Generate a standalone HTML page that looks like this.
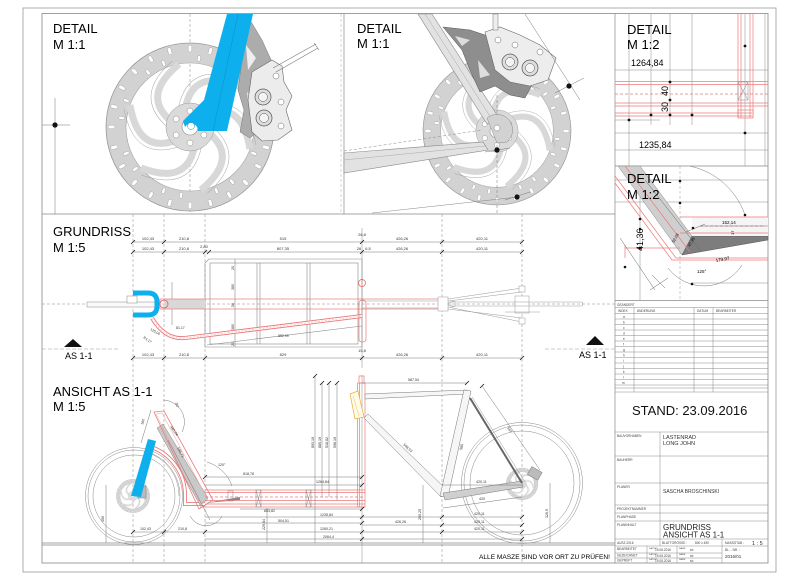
<!DOCTYPE html>
<html><head><meta charset="utf-8"><style>
html,body{margin:0;padding:0;background:#fff;}
svg{display:block;}
text{font-family:"Liberation Sans",Arial,sans-serif;}
</style></head><body>
<svg width="800" height="583" viewBox="0 0 800 583" xmlns="http://www.w3.org/2000/svg">
<defs>
 <rect id="so" x="-1.8" y="-82" width="3.6" height="7" rx="1.8" fill="#fff" stroke="#9a9a9a" stroke-width="0.4"/>
 <rect id="si" x="-1.5" y="-72" width="3" height="6" rx="1.5" fill="#fff" stroke="#9a9a9a" stroke-width="0.4"/>
 <path id="arm" d="M16,-14 Q52,-26 60,22" fill="none" stroke="#d8d8d8" stroke-width="7"/>
 <path id="armo" d="M12,-20 Q56,-34 66,18" fill="none" stroke="#a5a5a5" stroke-width="0.5"/>
 <g id="disc">
  <circle r="74" fill="none" stroke="#d2d2d2" stroke-width="20"/>
  <circle r="84" fill="none" stroke="#999" stroke-width="0.8"/>
  <circle r="64" fill="none" stroke="#a5a5a5" stroke-width="0.6"/>
  <use href="#so"/><use href="#so" transform="rotate(15)"/><use href="#so" transform="rotate(30)"/><use href="#so" transform="rotate(45)"/><use href="#so" transform="rotate(60)"/><use href="#so" transform="rotate(75)"/><use href="#so" transform="rotate(90)"/><use href="#so" transform="rotate(105)"/><use href="#so" transform="rotate(120)"/><use href="#so" transform="rotate(135)"/><use href="#so" transform="rotate(150)"/><use href="#so" transform="rotate(165)"/><use href="#so" transform="rotate(180)"/><use href="#so" transform="rotate(195)"/><use href="#so" transform="rotate(210)"/><use href="#so" transform="rotate(225)"/><use href="#so" transform="rotate(240)"/><use href="#so" transform="rotate(255)"/><use href="#so" transform="rotate(270)"/><use href="#so" transform="rotate(285)"/><use href="#so" transform="rotate(300)"/><use href="#so" transform="rotate(315)"/><use href="#so" transform="rotate(330)"/><use href="#so" transform="rotate(345)"/>
  <use href="#si" transform="rotate(7.5)"/><use href="#si" transform="rotate(22.5)"/><use href="#si" transform="rotate(52.5)"/><use href="#si" transform="rotate(67.5)"/><use href="#si" transform="rotate(97.5)"/><use href="#si" transform="rotate(112.5)"/><use href="#si" transform="rotate(142.5)"/><use href="#si" transform="rotate(157.5)"/><use href="#si" transform="rotate(187.5)"/><use href="#si" transform="rotate(202.5)"/><use href="#si" transform="rotate(232.5)"/><use href="#si" transform="rotate(247.5)"/><use href="#si" transform="rotate(277.5)"/><use href="#si" transform="rotate(292.5)"/><use href="#si" transform="rotate(322.5)"/><use href="#si" transform="rotate(337.5)"/>
  <use href="#arm"/><use href="#arm" transform="rotate(60)"/><use href="#arm" transform="rotate(120)"/><use href="#arm" transform="rotate(180)"/><use href="#arm" transform="rotate(240)"/><use href="#arm" transform="rotate(300)"/>
  <use href="#armo"/><use href="#armo" transform="rotate(60)"/><use href="#armo" transform="rotate(120)"/><use href="#armo" transform="rotate(180)"/><use href="#armo" transform="rotate(240)"/><use href="#armo" transform="rotate(300)"/>
  <circle r="24" fill="#dadada" stroke="#999" stroke-width="0.5"/>
  <circle r="8" fill="#fff" stroke="#888" stroke-width="0.6"/>
  <circle cx="0" cy="-16" r="3" fill="#fff" stroke="#888" stroke-width="0.5"/>
  <circle cx="13.9" cy="-8" r="3" fill="#fff" stroke="#888" stroke-width="0.5"/>
  <circle cx="13.9" cy="8" r="3" fill="#fff" stroke="#888" stroke-width="0.5"/>
  <circle cx="0" cy="16" r="3" fill="#fff" stroke="#888" stroke-width="0.5"/>
  <circle cx="-13.9" cy="8" r="3" fill="#fff" stroke="#888" stroke-width="0.5"/>
  <circle cx="-13.9" cy="-8" r="3" fill="#fff" stroke="#888" stroke-width="0.5"/>
 </g>
</defs>

<!-- frames -->
<rect x="23" y="8" width="753" height="564" fill="none" stroke="#999" stroke-width="0.8"/>
<rect x="42" y="13.5" width="726" height="549.5" fill="none" stroke="#888" stroke-width="0.8"/>
<g stroke="#888" stroke-width="0.7">
 <line x1="344" y1="13.5" x2="344" y2="214"/>
 <line x1="42" y1="214" x2="615" y2="214"/>
 <line x1="615" y1="13.5" x2="615" y2="563"/>
 <line x1="615" y1="166" x2="768" y2="166"/>
 <line x1="615" y1="300.5" x2="768" y2="300.5"/>
 <line x1="42" y1="543" x2="615" y2="543"/>
 <line x1="42" y1="545" x2="615" y2="545"/>
</g>

<!-- ================= DETAIL 1 ================= -->
<line x1="190" y1="14" x2="190" y2="214" stroke="#888" stroke-width="0.5" stroke-dasharray="3,2"/>
<line x1="341" y1="14" x2="341" y2="214" stroke="#aaa" stroke-width="0.5" stroke-dasharray="3,2"/>
<use href="#disc" transform="translate(190,127)"/>
<path d="M236,22 L250,20 L262,40 L272,62 L262,80 L268,100 L262,128 L250,138 L240,132 L244,110 L238,90 L242,60 Z" fill="#acacac" stroke="#777" stroke-width="0.5"/>
<path d="M246,45 L256,58 L248,70 Z M247,92 L256,100 L250,118 Z" fill="#eee"/>
<path d="M252,72 L272,60 L282,66 L284,82 L292,96 L286,110 L292,130 L278,140 L262,141 L252,132 L248,100 Z" fill="#ececec" stroke="#666" stroke-width="0.6"/>
<circle cx="263" cy="97" r="8" fill="#ddd" stroke="#555" stroke-width="0.7"/>
<circle cx="263" cy="97" r="4.5" fill="#f4f4f4" stroke="#555" stroke-width="0.5"/>
<circle cx="264" cy="118" r="8" fill="#ddd" stroke="#555" stroke-width="0.7"/>
<circle cx="264" cy="118" r="4.5" fill="#f4f4f4" stroke="#555" stroke-width="0.5"/>
<circle cx="276" cy="76" r="3" fill="#fff" stroke="#666" stroke-width="0.5"/>
<circle cx="281" cy="102" r="3" fill="#fff" stroke="#666" stroke-width="0.5"/>
<circle cx="281" cy="126" r="3" fill="#fff" stroke="#666" stroke-width="0.5"/>
<path d="M273,68 L316,44 M276,72 L318,48 M314,43 L319,50" stroke="#777" stroke-width="0.6" fill="none"/>
<path d="M227,14 L253,14 L227,131 L198,131 A7,7 0 0 0 185,127 L183,121 L204,100 Z" fill="#0db0ec"/>
<line x1="238" y1="14" x2="213" y2="131" stroke="#0a90c4" stroke-width="0.5"/>
<circle cx="191" cy="126" r="3.5" fill="#fff" stroke="#0a90c4" stroke-width="0.5"/>
<line x1="55" y1="98" x2="55" y2="214" stroke="#777" stroke-width="0.5"/>
<line x1="42" y1="125" x2="70" y2="125" stroke="#777" stroke-width="0.5"/>
<circle cx="55" cy="125" r="2.6" fill="#111"/>
<text x="53" y="33" font-size="13">DETAIL</text>
<text x="53" y="49" font-size="13">M 1:1</text>

<!-- ================= DETAIL 2 ================= -->
<use href="#disc" transform="translate(497,131) scale(0.88)"/>
<line x1="497" y1="95" x2="497" y2="214" stroke="#777" stroke-width="0.5" stroke-dasharray="3,2"/>
<polygon points="344,153 483,142 488,150 344,173" fill="#e2e2e2" stroke="#888" stroke-width="0.6"/>
<line x1="344" y1="160" x2="485" y2="146" stroke="#999" stroke-width="0.4"/>
<line x1="344" y1="151" x2="482" y2="130" stroke="#888" stroke-width="0.5" stroke-dasharray="3,2"/>
<line x1="372" y1="213" x2="518" y2="197" stroke="#888" stroke-width="0.5"/>
<polygon points="418,14 432,14 499,118 487,124" fill="#e2e2e2" stroke="#888" stroke-width="0.6"/>
<line x1="425" y1="14" x2="493" y2="121" stroke="#999" stroke-width="0.4"/>
<path d="M487,118 A15,15 0 1 1 507,142 L497,143 Z" fill="#d2d2d2" stroke="#888" stroke-width="0.5"/>
<circle cx="497" cy="128" r="3" fill="#fff" stroke="#777" stroke-width="0.5"/>
<path d="M443,27 L470,30 L500,40 L520,55 L532,85 L525,98 L510,95 L495,86 L480,92 L470,70 L462,50 Z" fill="#8e8e8e" stroke="#555" stroke-width="0.5"/>
<path d="M455,36 L470,40 L462,46 Z M478,60 L490,75 L480,78 Z M500,58 L512,70 L502,72 Z" fill="#ddd"/>
<path d="M485,32 L500,27 L520,35 L540,45 L556,58 L548,80 L530,86 L510,82 L495,70 Z" fill="#ededed" stroke="#666" stroke-width="0.6"/>
<circle cx="510" cy="62" r="8" fill="#ddd" stroke="#555" stroke-width="0.7"/>
<circle cx="510" cy="62" r="4.5" fill="#f4f4f4" stroke="#555" stroke-width="0.5"/>
<circle cx="530" cy="68" r="8" fill="#ddd" stroke="#555" stroke-width="0.7"/>
<circle cx="530" cy="68" r="4.5" fill="#f4f4f4" stroke="#555" stroke-width="0.5"/>
<circle cx="498" cy="40" r="3" fill="#fff" stroke="#666" stroke-width="0.5"/>
<circle cx="515" cy="45" r="3" fill="#fff" stroke="#666" stroke-width="0.5"/>
<circle cx="540" cy="52" r="3" fill="#fff" stroke="#666" stroke-width="0.5"/>
<rect x="493" y="14" width="5" height="16" fill="#eee" stroke="#777" stroke-width="0.5"/>
<line x1="525" y1="14" x2="580" y2="100" stroke="#777" stroke-width="0.5"/>
<line x1="555" y1="93" x2="584" y2="78" stroke="#777" stroke-width="0.5"/>
<line x1="485" y1="152" x2="510" y2="148" stroke="#777" stroke-width="0.5"/>
<line x1="505" y1="200" x2="530" y2="192" stroke="#777" stroke-width="0.5"/>
<circle cx="569" cy="86" r="2.6" fill="#111"/>
<circle cx="497" cy="150" r="2.6" fill="#111"/>
<circle cx="517" cy="197" r="2.6" fill="#111"/>
<text x="357" y="33" font-size="13">DETAIL</text>
<text x="357" y="48" font-size="13">M 1:1</text>

<!-- ================= DETAIL 3 ================= -->
<g stroke="#888" stroke-width="0.5">
 <line x1="615" y1="70" x2="768" y2="70"/>
 <line x1="615" y1="133" x2="768" y2="133"/>
 <line x1="615" y1="150" x2="768" y2="150"/>
 <line x1="629" y1="14" x2="629" y2="166"/>
 <line x1="651" y1="14" x2="651" y2="125"/>
 <line x1="670" y1="14" x2="670" y2="125"/>
 <line x1="692" y1="14" x2="692" y2="125"/>
 <line x1="745" y1="14" x2="745" y2="166"/>
 <line x1="765" y1="14" x2="765" y2="166"/>
 <line x1="615" y1="120" x2="660" y2="120"/>
</g>
<g stroke="#ec7a7a" stroke-width="0.7" fill="none">
 <line x1="615" y1="81.5" x2="768" y2="81.5"/>
 <line x1="615" y1="84.5" x2="768" y2="84.5"/>
 <line x1="615" y1="94" x2="768" y2="94" stroke-dasharray="3,2"/>
 <line x1="615" y1="103" x2="768" y2="103"/>
 <line x1="615" y1="106" x2="768" y2="106"/>
 <line x1="615" y1="113" x2="752" y2="113"/>
 <line x1="615" y1="116" x2="752" y2="116"/>
 <line x1="738" y1="14" x2="738" y2="118"/>
 <line x1="741" y1="14" x2="741" y2="118"/>
 <line x1="750" y1="14" x2="750" y2="118"/>
 <line x1="753" y1="14" x2="753" y2="118"/>
 <rect x="738" y="110" width="15" height="8"/>
</g>
<g stroke="#888" stroke-width="0.5" fill="none">
 <rect x="738" y="82" width="10" height="18"/>
 <line x1="738" y1="82" x2="748" y2="100"/><line x1="748" y1="82" x2="738" y2="100"/>
</g>
<g fill="#111">
 <circle cx="745" cy="46" r="1.4"/><circle cx="670" cy="82" r="1.4"/><circle cx="670" cy="100" r="1.4"/>
 <circle cx="670" cy="115" r="1.4"/><circle cx="651" cy="115" r="1.4"/><circle cx="692" cy="115" r="1.4"/>
 <circle cx="629" cy="120" r="1.4"/><circle cx="745" cy="133" r="1.4"/>
</g>
<text x="627" y="34" font-size="13">DETAIL</text>
<text x="627" y="49" font-size="13">M 1:2</text>
<text x="631" y="66" font-size="9">1264,84</text>
<text x="639" y="148" font-size="9">1235,84</text>
<text x="0" y="0" font-size="9" transform="translate(668,96) rotate(-90)">40</text>
<text x="0" y="0" font-size="9" transform="translate(668,112) rotate(-90)">30</text>

<!-- ================= DETAIL 4 ================= -->
<line x1="680" y1="166" x2="680" y2="300" stroke="#999" stroke-width="0.5" stroke-dasharray="3,2"/>
<g stroke="#888" stroke-width="0.5">
 <line x1="615" y1="180" x2="768" y2="180"/>
 <line x1="615" y1="202" x2="768" y2="202"/>
 <line x1="692" y1="283" x2="768" y2="283"/>
 <line x1="640" y1="166" x2="640" y2="300"/>
</g>
<polygon points="618,166 640,166 692,236 682,255" fill="#cfcfcf" stroke="#888" stroke-width="0.5"/>
<polygon points="692,236 768,236 768,240 682,255" fill="#7d7d7d" stroke="#555" stroke-width="0.5"/>
<rect x="692" y="217" width="76" height="19" fill="#f5f5f5" stroke="none"/>
<g stroke="#ec7a7a" stroke-width="0.7" fill="none">
 <line x1="615" y1="176" x2="676" y2="258"/>
 <line x1="615" y1="183" x2="672" y2="260"/>
 <line x1="625" y1="166" x2="690" y2="252"/>
 <line x1="676" y1="258" x2="768" y2="258"/>
 <line x1="672" y1="260" x2="768" y2="260"/>
 <line x1="680" y1="217" x2="768" y2="217"/>
 <line x1="680" y1="233" x2="768" y2="233"/>
 <line x1="700" y1="226" x2="768" y2="226" stroke-dasharray="3,2"/>
 <line x1="625" y1="245" x2="625" y2="258"/>
 <line x1="625" y1="248" x2="680" y2="248"/>
</g>
<path d="M690,166 A75,75 0 0 1 745,215" fill="none" stroke="#777" stroke-width="0.5"/>
<path d="M668,268 A45,45 0 0 0 742,265" fill="none" stroke="#777" stroke-width="0.5"/>
<g stroke="#666" stroke-width="0.5">
 <line x1="645" y1="180" x2="700" y2="250"/>
 <line x1="620" y1="238" x2="655" y2="290"/>
 <line x1="652" y1="275" x2="665" y2="288"/>
 <line x1="650" y1="290" x2="668" y2="278"/>
 <line x1="700" y1="226" x2="765" y2="226"/>
 <line x1="686" y1="232" x2="705" y2="224"/>
</g>
<g fill="#111">
 <circle cx="680" cy="181" r="1.3"/><circle cx="680" cy="203" r="1.3"/><circle cx="640" cy="219" r="1.3"/>
 <circle cx="640" cy="229" r="1.3"/><circle cx="640" cy="248" r="1.3"/><circle cx="625" cy="267" r="1.3"/>
 <circle cx="693" cy="228" r="1.3"/><circle cx="745" cy="215" r="1.3"/><circle cx="692" cy="284" r="1.3"/>
</g>
<text x="627" y="183" font-size="13">DETAIL</text>
<text x="627" y="199" font-size="13">M 1:2</text>
<text x="722" y="224" font-size="4.5">152,14</text>
<text x="0" y="0" font-size="4.5" transform="translate(716,262) rotate(-10)">179,97</text>
<text x="697" y="273" font-size="4.5">125°</text>
<text x="0" y="0" font-size="9" transform="translate(643,251) rotate(-90)">41,36</text>
<text x="0" y="0" font-size="4" transform="translate(674,243) rotate(-60)">52,03</text>
<text x="0" y="0" font-size="4" transform="translate(690,247) rotate(-60)">47,95</text>
<text x="0" y="0" font-size="4" transform="translate(734,235) rotate(-90)">17</text>

<!-- ================= GRUNDRISS ================= -->
<g stroke="#888" stroke-width="0.5" stroke-dasharray="3,2">
 <line x1="133" y1="214" x2="133" y2="563"/>
 <line x1="164" y1="214" x2="164" y2="563"/>
 <line x1="205" y1="214" x2="205" y2="563"/>
 <line x1="442" y1="214" x2="442" y2="563"/>
 <line x1="522" y1="214" x2="522" y2="563"/>
 <line x1="42" y1="304" x2="615" y2="304"/>
</g>
<line x1="362" y1="228" x2="362" y2="368" stroke="#888" stroke-width="0.5"/>
<line x1="362" y1="375" x2="362" y2="563" stroke="#888" stroke-width="0.5"/>
<g stroke="#777" stroke-width="0.5">
 <line x1="133" y1="242" x2="522" y2="242"/>
 <line x1="133" y1="252" x2="522" y2="252"/>
 <line x1="133" y1="358" x2="522" y2="358"/>
</g>
<g stroke="#111" stroke-width="0.8">
 <path d="M131,244 l4,-4 M162,244 l4,-4 M360,244 l4,-4 M440,244 l4,-4 M520,244 l4,-4"/>
 <path d="M131,254 l4,-4 M162,254 l4,-4 M203,254 l4,-4 M207,254 l4,-4 M360,254 l4,-4 M440,254 l4,-4 M520,254 l4,-4"/>
 <path d="M131,360 l4,-4 M162,360 l4,-4 M203,360 l4,-4 M360,360 l4,-4 M440,360 l4,-4 M520,360 l4,-4"/>
</g>
<g font-size="4" fill="#333" text-anchor="middle">
 <text x="148" y="240">102,43</text><text x="184" y="240">210,8</text><text x="283" y="240">515</text><text x="362" y="236">26,8</text><text x="402" y="240">426,26</text><text x="482" y="240">420,11</text>
 <text x="148" y="250">102,43</text><text x="184" y="250">210,8</text><text x="204" y="248">2,80</text><text x="283" y="250">807,35</text><text x="359" y="250">26</text><text x="368" y="250">6,5</text><text x="402" y="250">426,26</text><text x="482" y="250">420,11</text>
 <text x="148" y="356">102,43</text><text x="184" y="356">210,8</text><text x="283" y="356">829</text><text x="362" y="352">15,8</text><text x="402" y="356">426,26</text><text x="482" y="356">420,11</text>
</g>
<g stroke="#888" stroke-width="0.6" fill="none">
 <path d="M209,259 L362,259 L362,347 L205,347 L205,263 Z"/>
 <rect x="210" y="263" width="148" height="81"/>
 <line x1="257" y1="263" x2="257" y2="344"/><line x1="260" y1="263" x2="260" y2="344"/>
 <line x1="307" y1="263" x2="307" y2="344"/><line x1="310" y1="263" x2="310" y2="344"/>
 <line x1="207" y1="345" x2="362" y2="326"/>
 <line x1="235" y1="259" x2="235" y2="347"/>
 <line x1="172" y1="282" x2="172" y2="325"/>
</g>
<g font-size="3.5" fill="#333">
 <text transform="translate(234,270) rotate(-90)">20</text>
 <text transform="translate(234,290) rotate(-90)">380</text>
 <text transform="translate(234,307) rotate(-90)">50</text>
 <text transform="translate(234,330) rotate(-90)">380</text>
 <text transform="translate(234,346) rotate(-90)">20</text>
 <text transform="translate(171,308) rotate(-90)">475</text>
 <text x="278" y="337">852,99</text>
 <text x="176" y="329">81,17</text>
 <text transform="translate(150,330) rotate(30)">125,00</text>
 <text transform="translate(143,338) rotate(35)">R1,17</text>
</g>
<rect x="87" y="302" width="70" height="5" fill="#fafafa" stroke="#888" stroke-width="0.5"/>
<rect x="127" y="296" width="10" height="7" fill="#fff" stroke="#888" stroke-width="0.5"/>
<path d="M133,293 L148,293 Q157,293 157,302 L157,306 Q157,315 148,315 L133,315" fill="none" stroke="#0db0ec" stroke-width="5"/>
<rect x="164" y="299" width="41" height="10" fill="#d8d8d8" stroke="none"/>
<rect x="160" y="299" width="280" height="10" fill="none" stroke="#ec7a7a" stroke-width="0.7"/>
<circle cx="164" cy="304" r="4" fill="none" stroke="#e55" stroke-width="0.8"/>
<path d="M152,318 Q165,340 185,338 L362,316" fill="none" stroke="#ec7a7a" stroke-width="4"/>
<path d="M152,318 Q165,340 185,338 L362,316" fill="none" stroke="#fff" stroke-width="2.2"/>
<path d="M152,318 Q165,340 185,338 L362,316" fill="none" stroke="#f4b0b0" stroke-width="0.6" stroke-dasharray="2,1.5"/>
<rect x="359" y="300" width="7" height="42" rx="3" fill="none" stroke="#ec7a7a" stroke-width="0.7"/>
<circle cx="362" cy="283" r="3.5" fill="none" stroke="#e55" stroke-width="0.7"/>
<g stroke="#999" stroke-width="0.5" fill="#fff">
 <rect x="362" y="301" width="78" height="7" fill="none"/>
 <rect x="438" y="297" width="10" height="14"/>
 <rect x="515" y="296" width="14" height="17"/>
 <rect x="448" y="302" width="135" height="4" rx="2" fill="none"/>
 <line x1="448" y1="299" x2="522" y2="288"/><line x1="448" y1="301" x2="522" y2="292"/>
 <line x1="448" y1="309" x2="522" y2="318"/><line x1="448" y1="307" x2="522" y2="322"/>
 <rect x="519" y="286" width="6" height="6"/><rect x="519" y="318" width="6" height="6"/>
 <line x1="505" y1="312" x2="540" y2="312"/>
 <circle cx="453" cy="304" r="3" fill="none"/>
</g>
<line x1="42" y1="349" x2="120" y2="349" stroke="#999" stroke-width="0.5" stroke-dasharray="4,2"/>
<line x1="545" y1="349" x2="615" y2="349" stroke="#999" stroke-width="0.5" stroke-dasharray="4,2"/>
<polygon points="64,347 82,347 73,339" fill="#111"/>
<polygon points="586,345 604,345 595,336" fill="#111"/>
<text x="65" y="359" font-size="9">AS 1-1</text>
<text x="579" y="358" font-size="9">AS 1-1</text>
<text x="53" y="236" font-size="13">GRUNDRISS</text>
<text x="53" y="252" font-size="13">M 1:5</text>

<!-- ================= ANSICHT ================= -->
<text x="53" y="396" font-size="13">ANSICHT AS 1-1</text>
<text x="53" y="411" font-size="13">M 1:5</text>
<g fill="none" stroke="#888" stroke-width="0.5">
 <circle cx="134" cy="496" r="48.5"/><circle cx="134" cy="496" r="46"/><circle cx="134" cy="496" r="41"/>
 <circle cx="522" cy="483" r="60.5"/><circle cx="522" cy="483" r="58"/><circle cx="522" cy="483" r="52"/>
</g>
<use href="#disc" transform="translate(133,496) scale(0.2)"/>
<use href="#disc" transform="translate(522,484) scale(0.19)"/>
<rect x="138" y="486" width="8" height="12" fill="#bbb" stroke="#666" stroke-width="0.4"/>
<rect x="529" y="469" width="12" height="9" fill="#bbb" stroke="#666" stroke-width="0.4" transform="rotate(30 535 473)"/>
<path d="M148,446 A51,51 0 0 1 185,496 L185,504 L205,504" fill="none" stroke="#ec7a7a" stroke-width="4"/>
<path d="M148,446 A51,51 0 0 1 185,496 L185,504 L205,504" fill="none" stroke="#fff" stroke-width="2.2"/>
<path d="M145,452 A45,45 0 0 1 179,496" fill="none" stroke="#999" stroke-width="0.5"/>
<polygon points="157,428 163,424 208,498 200,505" fill="#c9c9c9" stroke="#888" stroke-width="0.5"/>
<polygon points="154,412 164,411 213,500 199,509" fill="none" stroke="#ec7a7a" stroke-width="0.8"/>
<polygon points="156,414 162,413 208,500 201,505" fill="none" stroke="#f0a0a0" stroke-width="0.5"/>
<path d="M205,503 L240,497 L240,500 Z" fill="#888"/>
<polygon points="148,439 156,441 141,497 131,496" fill="#0db0ec"/>
<g stroke="#ec7a7a" stroke-width="0.7" fill="none">
 <line x1="205" y1="490" x2="365" y2="490"/>
 <line x1="205" y1="492.5" x2="365" y2="492.5"/>
 <line x1="205" y1="497" x2="365" y2="497" stroke-dasharray="3,2"/>
 <line x1="205" y1="500.5" x2="365" y2="500.5"/>
 <line x1="205" y1="504" x2="365" y2="504"/>
 <line x1="200" y1="507" x2="365" y2="507"/>
 <rect x="357.5" y="383" width="7.5" height="124"/>
 <line x1="359.5" y1="383" x2="359.5" y2="507"/>
 <rect x="359" y="376" width="5" height="7"/>
</g>
<g stroke="#888" stroke-width="0.5" fill="none">
 <rect x="256" y="490" width="5" height="17"/><line x1="256" y1="490" x2="261" y2="507"/><line x1="261" y1="490" x2="256" y2="507"/>
 <rect x="306" y="490" width="5" height="17"/><line x1="306" y1="490" x2="311" y2="507"/><line x1="311" y1="490" x2="306" y2="507"/>
 <rect x="228" y="491" width="5" height="10"/>
</g>
<polygon points="350,394 358,391 364,417 355,419" fill="#fffbea" stroke="#e8b030" stroke-width="0.7"/>
<line x1="353" y1="396" x2="359" y2="416" stroke="#e8b030" stroke-width="0.4"/>
<polygon points="365,394 467,390 467,394 365,399" fill="#f6f6f6" stroke="#777" stroke-width="0.5"/>
<polygon points="364,418 368,414 447,490 441,497" fill="#f6f6f6" stroke="#777" stroke-width="0.5"/>
<polygon points="464,390 471,391 448,497 440,496" fill="#f6f6f6" stroke="#777" stroke-width="0.5"/>
<polygon points="443,493 522,481 523,487 445,500" fill="#cfcfcf" stroke="#777" stroke-width="0.5"/>
<line x1="470" y1="398" x2="522" y2="483" stroke="#666" stroke-width="2"/>
<line x1="472" y1="397" x2="525" y2="482" stroke="#999" stroke-width="0.5"/>
<g stroke="#777" stroke-width="0.5">
 <line x1="315" y1="376" x2="315" y2="543"/>
 <line x1="322" y1="383" x2="322" y2="497"/>
 <line x1="329" y1="383" x2="329" y2="497"/>
 <line x1="337" y1="383" x2="337" y2="500"/>
 <line x1="267" y1="508" x2="267" y2="543"/>
 <line x1="423" y1="485" x2="423" y2="543"/>
 <line x1="550" y1="483" x2="550" y2="543"/>
 <line x1="106" y1="485" x2="106" y2="543"/>
 <line x1="362" y1="383" x2="467" y2="383"/>
 <line x1="482" y1="386" x2="540" y2="470"/>
 <line x1="443" y1="508" x2="522" y2="497"/>
</g>
<g stroke="#777" stroke-width="0.5">
 <line x1="205" y1="477" x2="362" y2="477"/>
 <line x1="205" y1="485" x2="362" y2="485"/>
 <line x1="240" y1="509" x2="362" y2="509"/>
 <line x1="205" y1="517" x2="442" y2="517"/>
 <line x1="205" y1="523" x2="362" y2="523"/>
 <line x1="133" y1="532" x2="522" y2="532"/>
 <line x1="362" y1="525" x2="522" y2="525"/>
 <line x1="442" y1="517" x2="522" y2="517"/>
 <line x1="205" y1="539" x2="522" y2="539"/>
 <line x1="442" y1="485" x2="522" y2="485"/>
</g>
<g stroke="#111" stroke-width="0.8">
 <path d="M131,534 l4,-4 M162,534 l4,-4 M203,534 l4,-4 M360,534 l4,-4 M440,534 l4,-4 M520,534 l4,-4"/>
 <path d="M360,525 l4,-4 M440,527 l4,-4 M520,527 l4,-4 M440,519 l4,-4 M520,519 l4,-4 M203,479 l4,-4 M360,479 l4,-4 M360,487 l4,-4 M360,511 l4,-4 M360,519 l4,-4 M360,541 l4,-4 M520,541 l4,-4"/>
 <path d="M313,378 l4,-4 M320,385 l4,-4 M327,385 l4,-4 M335,385 l4,-4 M465,385 l4,-4 M480,388 l4,-4"/>
</g>
<g fill="none" stroke="#777" stroke-width="0.5">
 <path d="M163,400 A22,22 0 0 1 182,432"/>
 <path d="M207,462 A38,38 0 0 1 232,486"/>
 <path d="M190,516 A18,18 0 0 0 222,516"/>
 <line x1="141" y1="443" x2="151" y2="410"/>
 <line x1="168" y1="440" x2="210" y2="520"/>
</g>
<g font-size="3.6" fill="#333">
 <text x="243" y="475">818,78</text>
 <text x="316" y="483">1264,84</text>
 <text x="264" y="512">853,82</text>
 <text x="320" y="516">1235,84</text>
 <text x="278" y="522">504,51</text>
 <text x="320" y="530">1260,21</text>
 <text x="323" y="538">2064,4</text>
 <text x="140" y="530">102,43</text>
 <text x="178" y="530">210,8</text>
 <text x="395" y="523">426,26</text>
 <text x="474" y="515">420,11</text>
 <text x="474" y="523">420,11</text>
 <text x="474" y="530">420,11</text>
 <text x="408" y="381">587,54</text>
 <text x="476" y="483">420,11</text>
 <text x="479" y="500">420</text>
 <text transform="translate(265,530) rotate(-90)">229,84</text>
 <text transform="translate(421,520) rotate(-90)">250,25</text>
 <text transform="translate(548,518) rotate(-90)">326,5</text>
 <text transform="translate(104,522) rotate(-90)">450</text>
 <text transform="translate(314,448) rotate(-90)">893,19</text>
 <text transform="translate(321,448) rotate(-90)">885,19</text>
 <text transform="translate(328,448) rotate(-90)">518,82</text>
 <text transform="translate(336,448) rotate(-90)">598,19</text>
 <text transform="translate(403,445) rotate(43)">598,53</text>
 <text transform="translate(462,450) rotate(-77)">585</text>
 <text transform="translate(507,428) rotate(57)">597</text>
 <text transform="translate(177,448) rotate(62)">598,71</text>
 <text transform="translate(170,427) rotate(55)">460,04</text>
 <text transform="translate(143,425) rotate(-73)">160</text>
 <text transform="translate(175,403) rotate(70)">30°</text>
 <text x="218" y="466">120°</text>
</g>
<text x="479" y="559" font-size="6.6" textLength="131" lengthAdjust="spacingAndGlyphs">ALLE MASZE SIND VOR ORT ZU PRÜFEN!</text>

<!-- ================= TITLE BLOCK ================= -->
<g stroke="#888" stroke-width="0.5">
 <line x1="615" y1="307.5" x2="768" y2="307.5"/>
 <line x1="615" y1="313.5" x2="768" y2="313.5"/>
 <line x1="615" y1="319" x2="768" y2="319"/>
 <line x1="615" y1="324.5" x2="768" y2="324.5"/>
 <line x1="615" y1="330" x2="768" y2="330"/>
 <line x1="615" y1="335.5" x2="768" y2="335.5"/>
 <line x1="615" y1="341" x2="768" y2="341"/>
 <line x1="615" y1="346.5" x2="768" y2="346.5"/>
 <line x1="615" y1="352" x2="768" y2="352"/>
 <line x1="615" y1="357.5" x2="768" y2="357.5"/>
 <line x1="615" y1="363" x2="768" y2="363"/>
 <line x1="615" y1="368.5" x2="768" y2="368.5"/>
 <line x1="615" y1="374" x2="768" y2="374"/>
 <line x1="615" y1="379.5" x2="768" y2="379.5"/>
 <line x1="615" y1="385" x2="768" y2="385"/>
 <line x1="615" y1="388" x2="768" y2="388"/>
 <line x1="615" y1="392" x2="768" y2="392"/>
 <line x1="634" y1="307.5" x2="634" y2="392"/>
 <line x1="694" y1="307.5" x2="694" y2="392"/>
 <line x1="713" y1="307.5" x2="713" y2="392"/>
 <line x1="615" y1="432" x2="768" y2="432"/>
 <line x1="615" y1="456" x2="768" y2="456"/>
 <line x1="615" y1="483" x2="768" y2="483"/>
 <line x1="615" y1="505" x2="768" y2="505"/>
 <line x1="615" y1="513" x2="768" y2="513"/>
 <line x1="615" y1="521" x2="768" y2="521"/>
 <line x1="615" y1="539" x2="768" y2="539"/>
 <line x1="615" y1="546" x2="768" y2="546"/>
 <line x1="615" y1="553" x2="722" y2="553"/>
 <line x1="615" y1="558" x2="722" y2="558"/>
 <line x1="660" y1="432" x2="660" y2="539"/>
 <line x1="647" y1="546" x2="647" y2="563"/>
 <line x1="677" y1="546" x2="677" y2="563"/>
 <line x1="660" y1="539" x2="660" y2="546"/>
 <line x1="722" y1="539" x2="722" y2="563"/>
</g>
<g font-size="3.2" fill="#444">
 <text x="617" y="306">GEÄNDERT</text>
 <text x="618" y="312">INDEX</text><text x="637" y="312">ÄNDERUNG</text><text x="697" y="312">DATUM</text><text x="716" y="312">BEARBEITER</text>
 <text x="623" y="318">a</text><text x="623" y="323.5">b</text><text x="623" y="329">c</text><text x="623" y="334.5">d</text><text x="623" y="340">e</text><text x="623" y="345.5">f</text><text x="623" y="351">g</text><text x="623" y="356.5">h</text><text x="623" y="362">i</text><text x="623" y="367.5">j</text><text x="623" y="373">k</text><text x="623" y="378.5">l</text><text x="622" y="384">m</text>
 <text x="617" y="437">BAUVORHABEN</text>
 <text x="617" y="461">BAUHERR</text>
 <text x="617" y="488">PLANER</text>
 <text x="617" y="510">PROJEKTNUMMER</text>
 <text x="617" y="518">PLANPHASE</text>
 <text x="617" y="526">PLANINHALT</text>
 <text x="617" y="544">AUSZ.2016</text>
 <text x="617" y="550">BEARBEITET</text>
 <text x="617" y="556.5">GEZEICHNET</text>
 <text x="617" y="561.5">GEPRÜFT</text>
 <text x="662" y="544">BLATTGRÖSSE :</text>
 <text x="695" y="544">800 x 450</text>
 <text x="725" y="544">MASSSTAB :</text>
 <text x="725" y="551">BL. - NR. :</text>
 <text x="649" y="549" font-size="2.2">DATUM</text><text x="649" y="555" font-size="2.2">DATUM</text><text x="649" y="560" font-size="2.2">DATUM</text>
 <text x="679" y="549" font-size="2.2">NAME</text><text x="679" y="555" font-size="2.2">NAME</text><text x="679" y="560" font-size="2.2">NAME</text>
 <text x="655" y="551">19.08.2016</text><text x="655" y="557">19.08.2016</text><text x="655" y="562">19.08.2016</text>
 <text x="690" y="551">sb</text><text x="690" y="557">sb</text><text x="690" y="562">sb</text>
</g>
<text x="752" y="545" font-size="5.5" fill="#333">1 : 5</text>
<text x="725" y="558" font-size="4.5" fill="#333">2016/01</text>
<text x="663" y="439" font-size="5.5" fill="#333">LASTENRAD</text>
<text x="663" y="445" font-size="5.5" fill="#333">LONG JOHN</text>
<text x="663" y="493" font-size="5" fill="#333">SASCHA BROSCHINSKI</text>
<text x="663" y="530" font-size="8" fill="#222">GRUNDRISS</text>
<text x="663" y="537.5" font-size="8" fill="#222">ANSICHT AS 1-1</text>
<text x="632" y="415" font-size="13" fill="#111">STAND: 23.09.2016</text>
</svg>
</body></html>
